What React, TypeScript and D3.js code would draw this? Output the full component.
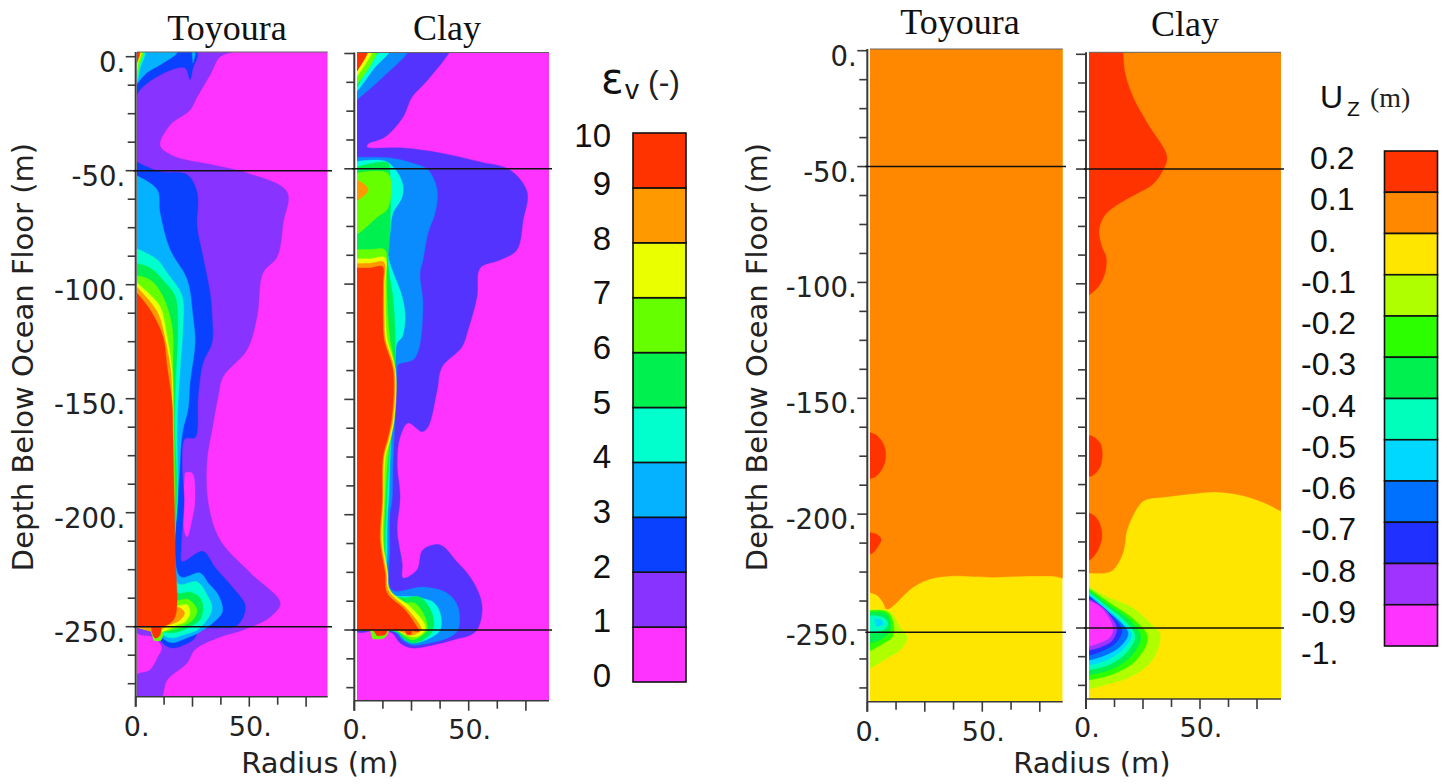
import * as d3 from "d3";

type Contour = [number, number][]; // [radius m, depth m]

// ---- legends
const strainLabels = ["0", "1", "2", "3", "4", "5", "6", "7", "8", "9", "10"];
const strainColors = ["#ff33ff", "#8833ff", "#0a40ff", "#04b2ff", "#00ffcc", "#00f050", "#66ff00", "#eaff00", "#ff9900", "#ff3300"];
const dispLabels = ["0.2", "0.1", "0.", "-0.1", "-0.2", "-0.3", "-0.4", "-0.5", "-0.6", "-0.7", "-0.8", "-0.9", "-1."];
const dispColors = ["#ff3300", "#ff8800", "#ffe600", "#b0ff00", "#2bff00", "#00f050", "#00ffbb", "#00d8ff", "#0070ff", "#2030ff", "#a033ff", "#ff33ff"];

// ---- axes
const depthLabels = [0, -50, -100, -150, -200, -250];
const depthTicks = d3.range(0, -276, -12.5);
const radiusLabels = [0, 50];
const radiusTicks = d3.range(0, 76, 12.5);
const layerDepths = [-50, -250];

// ---- volumetric strain, Toyoura
const t1: Contour = [[42.4, 2], [37.1, 0], [32.7, -8], [27, -17.7], [23.9, -23.4], [15.1, -30], [10.7, -39], [16.4, -43.5], [34, -47.5], [49, -51], [66.6, -59.3], [64.9, -72.9], [62.2, -87.9], [56, -94.8], [53.4, -114], [49, -128.5], [38.5, -140.3], [36.3, -149], [33.6, -163.6], [31.4, -176.8], [31.9, -195.8], [37.1, -212], [50.4, -226.4], [63.6, -239.6], [59.2, -245.7], [47.3, -251.4], [37.1, -254.5], [26.1, -260], [22.6, -265.9], [13.8, -273.4], [10.7, -282], [0, -282], [0, -271.5], [6.3, -269], [9.8, -263.3], [11.6, -259], [7.6, -254.5], [0, -252], [0, 2]];
const t0Slot: Contour = [[21.7, -182.6], [24.8, -182.6], [26.1, -194.4], [24.8, -203], [22.6, -210.6], [21.3, -207.5], [20.8, -194.4]];
const t2Top: Contour = [[0, 2], [27, 2], [25.2, -4.9], [23.9, -10], [21.7, -4.9], [10.7, -8], [0.9, -15.9], [0, -22]];
const t2: Contour = [[0, -46], [10.7, -50.5], [22.6, -51.8], [27, -59.7], [27, -74.6], [29.6, -87.8], [32.7, -103.6], [33.6, -114], [33.6, -125.4], [29.6, -134.3], [27.4, -149.2], [26.1, -167], [21.7, -167.5], [20.4, -179.8], [21.3, -194.4], [20, -215], [20.4, -221.5], [29.6, -217], [34.9, -224], [42.4, -232.5], [48.1, -240.4], [47.3, -245.7], [43.7, -250], [37.1, -250.5], [28.3, -251.4], [25.2, -255.8], [16.4, -259.3], [12.9, -258], [9.8, -254.5], [7.2, -250], [0, -250]];
const t3Top: Contour = [[0, 2], [18.2, 2], [10.7, -3.6], [4.9, -7], [1, -11.4], [0, -13]];
const t3Spike: Contour = [[24.8, 2], [26.1, 2], [25.2, -2.8]];
const t3: Contour = [[0, -52], [9.4, -58.3], [10.7, -68.4], [15.1, -84.6], [22.6, -97.7], [25.2, -114], [26.1, -125.4], [23.9, -143], [23, -155], [20.8, -163.6], [19.5, -178], [19.5, -228], [28.3, -226.4], [31.9, -230.8], [35.8, -235.2], [38, -240.4], [38, -243.9], [34, -248.3], [28.3, -252.3], [22.6, -254.9], [16.4, -257], [12.9, -255.8], [9.4, -252.6], [0, -250]];
const t4Top: Contour = [[0, 2], [4, 2], [2, -5], [0.6, -11], [0, -11]];
const t4: Contour = [[0, -84], [9.4, -89], [13.8, -94.8], [20.4, -105], [20.8, -118.4], [19.5, -137.4], [18.6, -151.8], [18.2, -166.7], [18.6, -190], [18.6, -231], [27, -230.3], [31.4, -236], [33.6, -241.7], [31.4, -247], [27, -251.4], [20.8, -253.6], [16, -254.9], [12, -253.6], [9.4, -251.4], [0, -250]];
const t5: Contour = [[0, -90.6], [6.3, -92.6], [12, -98], [17.3, -105], [18.6, -118.4], [17.8, -137.4], [17.3, -151.8], [17.3, -166.7], [18.2, -188.6], [18.2, -235], [23.9, -234.8], [28.3, -237.3], [29.6, -241.7], [28.3, -247], [23.9, -250], [18.6, -252.3], [13.8, -252.6], [9.4, -251.4], [0, -250]];
const t6Top: Contour = [[0, 2], [3.2, 2], [1.5, -4], [0.6, -9], [0, -9]];
const t6: Contour = [[0, -96], [6.3, -97.8], [11.6, -104.4], [16, -118.4], [16.4, -137.4], [16.9, -166.7], [17.3, -190], [17.3, -238], [23, -238], [27, -242.6], [25.2, -247], [20.8, -249.7], [16, -251.4], [9.4, -252.3], [0, -250]];
const t6Halo: Contour = [[6, -250], [12, -250], [11, -256], [8, -256]];
const t7Top: Contour = [[0, 2], [2.4, 2], [1, -3], [0.6, -6], [0, -6]];
const t7: Contour = [[0, -98.8], [6.3, -104.4], [10.7, -109.6], [13.8, -122.8], [16, -137.4], [16.4, -151.8], [16.4, -166.7], [16.9, -190], [17.3, -240.4], [22.6, -240.4], [23.9, -243.9], [21.7, -247.9], [18.2, -249.2], [13.8, -251.4], [9.4, -252.3], [0, -250]];
const t8: Contour = [[0, -100.5], [6, -107], [10, -113], [13, -124], [15.5, -138], [16, -152], [16, -167], [16.5, -190], [16.8, -241.5], [19, -241.5], [21.5, -244], [19, -247.5], [14, -249.5], [9.4, -252], [0, -250]];
const t9Top: Contour = [[0, 2], [1.8, 2], [0.8, -2], [0, -4]];
const t9: Contour = [[0, -103], [6.3, -111], [12, -122.8], [13.8, -136], [16, -151.8], [16.4, -166.7], [16.9, -190], [17.3, -216.3], [17.3, -245.7], [13.8, -249.2], [8.5, -250], [0, -250]];
const t9Blob: Contour = [[7, -250], [11, -250], [10.5, -254], [8.5, -255], [7, -252]];

// ---- volumetric strain, clay
const c1: Contour = [[42.7, 2], [37.5, -5], [30.9, -12.8], [25.2, -18.9], [21.3, -27.5], [13.4, -36.2], [6, -39.2], [5.5, -40.5], [21.3, -41], [37.5, -43.1], [55, -47], [68, -50.5], [75.5, -60], [73.8, -72.2], [71, -85.2], [63.7, -89.5], [55, -93], [53.6, -105.6], [49.7, -119.9], [47, -127.3], [38.3, -136], [36.2, -146], [32.2, -162], [29.6, -164], [23.5, -160.2], [20, -166.3], [18.7, -177.6], [20, -192.3], [18.7, -206.6], [20.9, -221], [21.3, -227.5], [27.4, -224], [30, -215.3], [37.5, -213.1], [44.9, -220.5], [50.6, -227], [55, -235.7], [55.8, -242.6], [52.8, -250.9], [43.2, -254.3], [34.4, -256.5], [25.2, -257.8], [20, -255.6], [16.5, -251.3], [10, -250], [0, -250], [0, 2]];
const c3Top: Contour = [[0, 2], [23.5, 2], [12.5, -10.2], [1.6, -19.7], [0, -21]];
const c3: Contour = [[0, -45], [15.6, -45.3], [25.2, -47.5], [32.2, -50.5], [36.2, -59.2], [35.3, -69.2], [32.2, -77.8], [30, -89.5], [28.7, -95.2], [30, -110], [26.5, -132], [19, -135], [18.7, -137.3], [17.8, -157.6], [16.9, -177.6], [16.5, -193.6], [15.6, -199.3], [15.5, -214], [16.5, -232.6], [30, -231.4], [40.5, -234], [45.3, -240], [45.3, -250], [41.8, -253], [33, -255.6], [25.2, -256.5], [20.9, -254.3], [17.8, -250.9], [10, -250], [0, -250]];
const c4Top: Contour = [[0, 2], [15.6, 2], [8.2, -7], [1.6, -15.8], [0, -17]];
const c4: Contour = [[0, -47], [14.3, -47], [20.9, -55.7], [20.9, -62.2], [16.9, -69.2], [15.6, -77.8], [14.7, -87.4], [20.9, -105.6], [22.2, -114.3], [20.9, -122.9], [18.7, -125.5], [17.8, -134.2], [16.9, -149], [15.6, -177.6], [15, -193.6], [14.6, -199.3], [14.3, -214], [15.6, -234], [26.5, -235.7], [34.4, -237.9], [37.5, -242.6], [37.5, -250], [33, -253.5], [26.5, -255.6], [22.2, -254.3], [18.7, -250.9], [10, -250], [0, -250]];
const c5Top: Contour = [[0, 2], [11, 2], [5, -6], [1.6, -14], [0, -15]];
const c5: Contour = [[0, -49.5], [14.7, -47.5], [15.6, -53.6], [15.6, -77.8], [14.7, -90.9], [16.9, -105.6], [17.8, -119.9], [17.8, -134.2], [16.9, -149], [15.6, -170.6], [14.2, -193.6], [14, -199.3], [13.6, -214], [14.7, -234], [22.2, -236], [28.7, -235.7], [33.9, -242.6], [34.4, -250], [30, -254.3], [25.2, -255.6], [21.3, -253.5], [18.7, -250.9], [10, -250], [0, -250]];
const c6Top: Contour = [[0, 2], [9.9, 2], [1.6, -12.8], [0, -14]];
const c6Upper: Contour = [[0, -52], [14.7, -52], [14.7, -67], [10, -71], [2.5, -77.5], [0, -79]];
const c6: Contour = [[0, -85], [7, -85], [13.4, -85.2], [14.1, -95], [14.3, -105.6], [14.8, -115], [15.6, -124.2], [17.3, -134.2], [16.4, -163], [15.2, -170.6], [13.5, -193.6], [13, -214], [14.6, -233], [20.9, -238], [26.5, -238.4], [30.9, -244.4], [31.8, -250], [28.7, -253], [25.2, -254.3], [21.3, -252.2], [18.7, -250], [10, -250], [0, -250]];
const c6Halo: Contour = [[7, -250], [15, -250], [13, -253.5], [8, -253.8]];
const c7Top: Contour = [[0, 2], [7.7, 2], [1.6, -9.3], [0, -11]];
const c7: Contour = [[0, -89], [7, -89], [13.3, -88.5], [13.5, -100], [13.7, -115], [14.4, -124], [18, -137], [17.6, -158], [16, -166.3], [13.6, -175], [13, -193.6], [12.4, -211], [14.6, -225], [15.5, -232.5], [24.5, -240], [30.5, -247], [31, -250], [27, -253], [22, -252], [18, -250], [10, -250], [0, -250]];
const c8Upper: Contour = [[0, -55], [2.5, -55.5], [6, -59], [2.5, -63], [0, -64]];
const c8: Contour = [[0, -91], [7, -91], [12.9, -90.5], [13, -100], [13.1, -115], [13.6, -124], [17.5, -137], [17, -158], [15.3, -166.3], [13, -175], [12.6, -193.6], [11.8, -211], [14, -225.3], [15, -233], [23.2, -241], [28.7, -248], [29.2, -250], [25, -252.3], [21, -251], [18, -250], [10, -250], [0, -250]];
const c9Top: Contour = [[0, 2], [6, 2], [1.6, -7], [0, -9]];
const c9: Contour = [[0, -93], [7, -93], [12.3, -92.5], [12.5, -100], [12.5, -115], [13, -124.2], [16.9, -137.3], [16.4, -157.6], [14.7, -166.3], [12.5, -175], [12.1, -193.6], [11.2, -211], [13.4, -225.3], [14.3, -234], [22.2, -241.3], [27.4, -248.7], [28.3, -250.5], [24, -250.2], [16, -250], [8, -250], [0, -250]];
const c9BlobA: Contour = [[8.2, -250], [14.3, -250], [13.5, -252], [10, -252.6]];
const c9BlobB: Contour = [[22, -250], [25, -250], [24.5, -252], [23, -252]];

// ---- vertical displacement, Toyoura
const ut01: Contour = [[0, 2], [90, 2], [90, -226.7], [80, -226.7], [69.4, -226.7], [54.6, -227.2], [36, -226.7], [27.3, -228], [19.9, -231.5], [8.6, -241], [6.8, -238], [4.2, -235], [1.6, -234], [0, -234]];
const utHighA: Contour = [[0, -164.5], [4, -166], [7.5, -171], [7.5, -178], [4, -183.5], [0, -185]];
const utHighB: Contour = [[0, -207.7], [4.6, -209], [6, -211], [4.6, -214], [2, -217], [0, -217]];
const utLime: Contour = [[0, -241.4], [9.9, -242.2], [14.2, -248.7], [17.3, -253.4], [14.2, -258.7], [8.6, -262.1], [1.6, -266.4], [0, -267]];
const utGreen: Contour = [[0, -241.7], [8.6, -242.2], [11.3, -247], [10.9, -253], [6.9, -255.8], [1.6, -258.8], [0, -259.5]];
const utSpring: Contour = [[0, -242.5], [8, -243], [10, -247], [9.5, -251], [6, -254], [0, -256]];
const utTeal: Contour = [[0, -243.7], [6.9, -244.6], [9, -247], [6.9, -250], [0, -250.7]];
const utCyan: Contour = [[3, -245.5], [6, -245.5], [7, -247.5], [4, -248.5]];

// ---- vertical displacement, clay
const uc01: Contour = [[0, 2], [90, 2], [90, -200], [85.5, -199], [78.5, -195.5], [67.5, -192], [56.6, -190.7], [45.6, -191.6], [34.6, -192.9], [25.9, -194.2], [22.8, -197.2], [18, -207.3], [16.2, -217.3], [11.8, -224.7], [8.3, -226], [1.3, -226], [0, -226]];
const ucHighA: Contour = [[16.2, 2], [17.1, -8.1], [20.6, -18.6], [26.8, -29.9], [35.5, -44.7], [33.3, -51.3], [28.9, -57], [22.8, -60.4], [14.9, -64.8], [8.3, -70], [5.7, -76.6], [7, -84], [8.8, -88.3], [8.3, -95.3], [5.3, -101.4], [1.3, -104.9], [0, -106], [0, 2]];
const ucHighB: Contour = [[0, -166], [3, -166.5], [6.5, -170], [6.5, -179], [3, -183.5], [0, -184]];
const ucHighC: Contour = [[0, -200], [1.8, -200], [5.3, -203], [7, -209.5], [5.3, -216], [1.8, -220.3], [0, -221]];
const ucLime: Contour = [[0, -231], [7.5, -235.6], [20.6, -241.3], [28, -247.8], [32.5, -253], [29, -264], [19.3, -271.4], [8.3, -274.8], [0, -277]];
const ucGreen: Contour = [[0, -232], [11.8, -240], [20.6, -246], [27, -254], [22, -264], [12, -270], [1.8, -272.6], [0, -273]];
const ucSpring: Contour = [[0, -232.7], [10.5, -240.5], [18.5, -246], [24, -254], [19.5, -262.5], [11, -268], [1.8, -270.4], [0, -270.6]];
const ucTeal: Contour = [[0, -233.4], [9.5, -241], [16.5, -246.5], [21.5, -253.5], [17.5, -261], [10, -266], [1.8, -268.2], [0, -268.4]];
const ucCyan: Contour = [[0, -234], [9, -241.5], [15.5, -247], [20, -253], [16, -259.5], [9, -264], [1.8, -266], [0, -266.2]];
const ucBlue: Contour = [[0, -234.7], [8.5, -242], [14.5, -247], [18.5, -252.5], [14.5, -258.5], [8, -262], [1.8, -263.9], [0, -264]];
const ucDeep: Contour = [[0, -235.5], [7.5, -241], [12.5, -246], [15.8, -251], [13, -256.5], [7, -260], [1.8, -261.8], [0, -262]];
const ucViolet: Contour = [[0, -236.7], [6, -240], [10.5, -244.5], [13.5, -250], [11.5, -255.5], [6, -258.5], [1.8, -259.6], [0, -260]];
const ucMagenta: Contour = [[0, -237.8], [5, -240], [8.5, -243.3], [11.8, -250], [10.5, -254], [5, -256.8], [1.8, -257.8], [0, -258]];

const [e0, e1, e2, e3, e4, e5, e6, e7, e8, e9] = strainColors;
const clayE1 = "#5533ff";
const clayE3 = "#0a8cff";
const clayE4 = "#00ffdd";
const [u9, u8, u7, u6, u5, u4, u3, u2, u1, u0, um, uz] = dispColors;

const panels = [
  {
    id: "p1", title: "Toyoura", titleX: 227, titleY: 40, axisX: 135.7, x50: 249.3, fillLeft: 137, right: 327.7, top: 52, bottom: 696.7, y0: 56.7, y250: 626.7,
    lineEnd: 332, lines: layerDepths, base: e0, labelsY: true, xBase: 736,
    bands: [[e1, t1], [e0, t0Slot], [e2, t2Top], [e2, t2], [e3, t3Top], [e3, t3Spike], [e3, t3], [e4, t4Top], [e4, t4], [e5, t5], [e6, t6Top], [e6, t6], [e6, t6Halo], [e7, t7Top], [e7, t7], [e8, t8], [e9, t9Top], [e9, t9], [e9, t9Blob]],
  },
  {
    id: "p2", title: "Clay", titleX: 447, titleY: 40, axisX: 354.3, x50: 468.7, fillLeft: 357, right: 549, top: 52.5, bottom: 700.7, y0: 53.5, y250: 630,
    lineEnd: 552, lines: layerDepths, base: e0, labelsY: false, xBase: 739,
    bands: [[clayE1, c1], [clayE3, c3Top], [clayE3, c3], [clayE4, c4Top], [clayE4, c4], [e5, c5Top], [e5, c5], [e6, c6Top], [e6, c6Upper], [e6, c6], [e6, c6Halo], [e7, c7Top], [e7, c7], [e8, c8Upper], [e8, c8], [e9, c9Top], [e9, c9], [e9, c9BlobA], [e9, c9BlobB]],
  },
  {
    id: "p3", title: "Toyoura", titleX: 960, titleY: 34, axisX: 867.3, x50: 982.3, fillLeft: 870, right: 1062.7, top: 49, bottom: 701.7, y0: 50.7, y250: 630,
    lineEnd: 1066, lines: [-50, -251], base: u7, labelsY: true, xBase: 741,
    bands: [[u8, ut01], [u9, utHighA], [u9, utHighB], [u6, utLime], [u5, utGreen], [u4, utSpring], [u3, utTeal], [u2, utCyan]],
  },
  {
    id: "p4", title: "Clay", titleX: 1185, titleY: 36, axisX: 1086, x50: 1200, fillLeft: 1089, right: 1281, top: 52.3, bottom: 699, y0: 54.3, y250: 628,
    lineEnd: 1284, lines: layerDepths, base: u7, labelsY: false, xBase: 737,
    bands: [[u8, uc01], [u9, ucHighA], [u9, ucHighB], [u9, ucHighC], [u6, ucLime], [u5, ucGreen], [u4, ucSpring], [u3, ucTeal], [u2, ucCyan], [u1, ucBlue], [u0, ucDeep], [um, ucViolet], [uz, ucMagenta]],
  },
];

const SANS = "'DejaVu Sans', sans-serif";
const HELV = "'Liberation Sans', Arial, sans-serif";
const SERIF = "'Liberation Serif', 'Times New Roman', serif";
const AXIS = "#3a3a3a";

function Panel({ p }: { p: any }) {
  const x = d3.scaleLinear().domain([0, 50]).range([p.axisX, p.x50]);
  const y = d3.scaleLinear().domain([0, -250]).range([p.y0, p.y250]);
  // open spline: the contour is smooth, the closing run along the axis stays straight
  const line = d3.line().x((d: any) => x(d[0])).y((d: any) => y(d[1])).curve(d3.curveCatmullRom.alpha(0.5));
  return (
    <g>
      <clipPath id={`clip-${p.id}`}>
        <rect x={p.fillLeft} y={p.top} width={p.right - p.fillLeft} height={p.bottom - p.top} />
      </clipPath>
      <g clipPath={`url(#clip-${p.id})`}>
        <rect x={p.fillLeft} y={p.top} width={p.right - p.fillLeft} height={p.bottom - p.top} fill={p.base} />
        {p.bands.map(([color, outline]: any, i: number) => (
          <path key={i} d={`${line(outline)}Z`} fill={color} stroke={color} strokeWidth={0.4} />
        ))}
      </g>
      <line x1={p.fillLeft} x2={p.right} y1={p.top} y2={p.top} stroke="#666" strokeWidth={1} />
      <line x1={p.axisX} x2={p.axisX} y1={p.top} y2={p.bottom + 10} stroke={AXIS} strokeWidth={2} />
      <line x1={p.axisX} x2={p.right} y1={p.bottom} y2={p.bottom} stroke={AXIS} strokeWidth={1.6} />
      {depthTicks.map((t) => (
        <line key={t} x1={p.axisX - (t % 50 === 0 ? 10 : 8)} x2={p.axisX} y1={y(t)} y2={y(t)} stroke={AXIS} strokeWidth={1.6} />
      ))}
      {radiusTicks.map((t) => (
        <line key={t} x1={x(t)} x2={x(t)} y1={p.bottom} y2={p.bottom + (t % 25 === 0 ? 10 : 8)} stroke={AXIS} strokeWidth={1.6} />
      ))}
      {p.lines.map((d: number) => (
        <line key={d} x1={p.axisX - 2} x2={p.lineEnd} y1={y(d)} y2={y(d)} stroke="#111" strokeWidth={1.5} />
      ))}
      {p.labelsY && depthLabels.map((t) => (
        <text key={t} x={p.axisX - 10.5} y={y(t) + 15} textAnchor="end" fontFamily={SANS} fontSize={27.5} fill="#222">{`${t}.`}</text>
      ))}
      {radiusLabels.map((t) => (
        <text key={t} x={x(t) + 1} y={p.xBase} textAnchor="middle" fontFamily={SANS} fontSize={27} fill="#222">{`${t}.`}</text>
      ))}
      <text x={p.titleX} y={p.titleY} textAnchor="middle" fontFamily={SERIF} fontSize={36} fill="#111">{p.title}</text>
    </g>
  );
}

function StrainLegend() {
  const boxes = d3.scaleLinear().domain([0, 10]).range([682, 133]);
  const labels = d3.scaleLinear().domain([0, 9]).range([675, 183]);
  return (
    <g>
      {strainColors.map((c, i) => (
        <rect key={i} x={633} y={boxes(i + 1)} width={53} height={boxes(i) - boxes(i + 1)} fill={c} stroke="#111" strokeWidth={1.6} />
      ))}
      {strainLabels.map((t, i) => (
        <text key={t} x={611} y={labels(i) + (i === 10 ? 7 : 0) + 12} textAnchor="end" fontFamily={HELV} fontSize={33} fill="#111">{t}</text>
      ))}
      <text x={601} y={93} fontFamily={SANS} fontSize={42} fill="#111">ε</text>
      <text x={625} y={99} fontFamily={HELV} fontSize={28} fill="#111">v</text>
      <text x={648} y={93} fontFamily={HELV} fontSize={32} fill="#222">(-)</text>
    </g>
  );
}

function DispLegend() {
  const boxes = d3.scaleLinear().domain([0, 12]).range([151, 646]);
  const labels = d3.scaleLinear().domain([0, 12]).range([157, 652]);
  return (
    <g>
      {dispColors.map((c, i) => (
        <rect key={i} x={1384.5} y={boxes(i)} width={53} height={boxes(i + 1) - boxes(i)} fill={c} stroke="#111" strokeWidth={1.6} />
      ))}
      {dispLabels.map((t, i) => (
        <text key={t} x={t.startsWith("-") ? 1301 : 1310} y={labels(i) + 12} fontFamily={HELV} fontSize={32} fill="#111">{t}</text>
      ))}
      <text x={1320} y={108} fontFamily={HELV} fontSize={32} fill="#111">U</text>
      <text x={1347} y={116} fontFamily={HELV} fontSize={21} fill="#111">Z</text>
      <text x={1370} y={107} fontFamily={SERIF} fontSize={28} fill="#222">(m)</text>
    </g>
  );
}

export default function App() {
  return (
    <svg width={1447} height={784} style={{ position: "absolute", left: 0, top: 0, display: "block", background: "#fff" }}>
      {panels.map((p) => <Panel key={p.id} p={p} />)}
      <text transform="translate(33,357) rotate(-90)" textAnchor="middle" fontFamily={SANS} fontSize={29} fill="#222">Depth Below Ocean Floor (m)</text>
      <text transform="translate(767,357) rotate(-90)" textAnchor="middle" fontFamily={SANS} fontSize={29} fill="#222">Depth Below Ocean Floor (m)</text>
      <text x={320} y={773} textAnchor="middle" fontFamily={SANS} fontSize={29} fill="#222">Radius (m)</text>
      <text x={1092} y={773} textAnchor="middle" fontFamily={SANS} fontSize={29} fill="#222">Radius (m)</text>
      <StrainLegend />
      <DispLegend />
    </svg>
  );
}
